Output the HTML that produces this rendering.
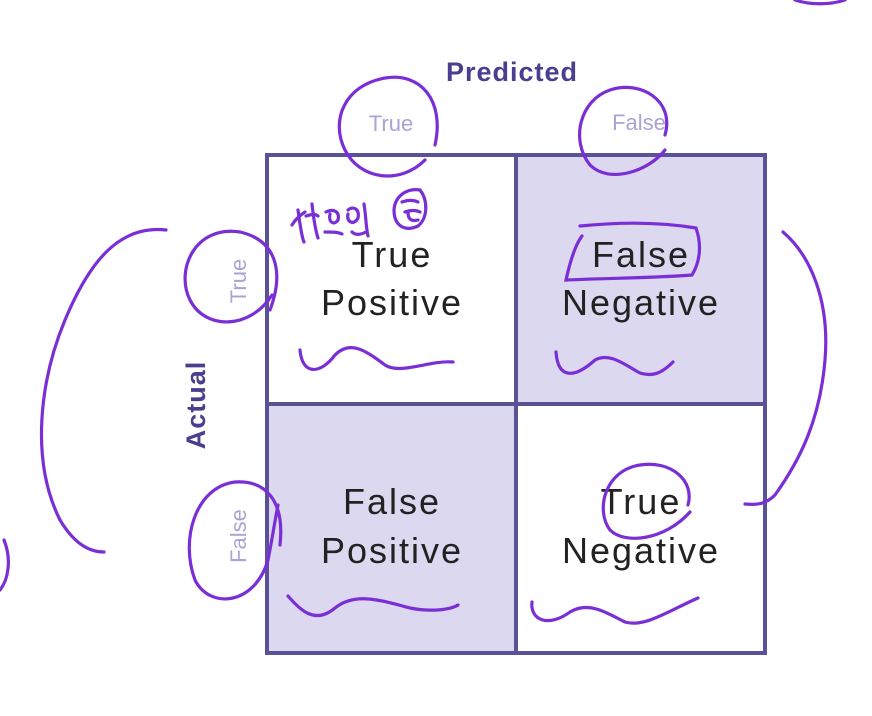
<!DOCTYPE html>
<html><head><meta charset="utf-8"><style>
html,body{margin:0;padding:0;background:#fff;}
body{width:872px;height:716px;overflow:hidden;position:relative;font-family:"Liberation Sans","Noto Sans CJK KR",sans-serif;}
</style></head><body>
<svg width="872" height="716" viewBox="0 0 872 716" xmlns="http://www.w3.org/2000/svg" style="position:absolute;left:0;top:0">
<rect x="0" y="0" width="872" height="716" fill="#ffffff"/>
<rect x="516" y="155" width="249" height="249" fill="#dcd8f0"/>
<rect x="267" y="404" width="249" height="249" fill="#dcd8f0"/>
<rect x="267" y="155" width="498" height="498" fill="none" stroke="#5a5296" stroke-width="4"/>
<line x1="516" y1="155" x2="516" y2="653" stroke="#5a5296" stroke-width="4"/>
<line x1="267" y1="404" x2="765" y2="404" stroke="#5a5296" stroke-width="4"/>
<g font-family="Liberation Sans, sans-serif" font-size="36" fill="#222" text-anchor="middle" letter-spacing="2">
<text x="392" y="267">True</text><text x="392" y="315">Positive</text>
<text x="641" y="267">False</text><text x="641" y="315">Negative</text>
<text x="392" y="514">False</text><text x="392" y="563">Positive</text>
<text x="641" y="514">True</text><text x="641" y="563">Negative</text>
</g>
<text x="512" y="81" font-size="27" font-weight="bold" fill="#4a3f8f" text-anchor="middle" letter-spacing="1">Predicted</text>
<text x="391" y="131" font-size="22" fill="#a9a3d6" text-anchor="middle">True</text>
<text x="639" y="130" font-size="22" fill="#a9a3d6" text-anchor="middle">False</text>
<text transform="translate(205,405) rotate(-90)" font-size="27" font-weight="bold" fill="#4a3f8f" text-anchor="middle" letter-spacing="1">Actual</text>
<text transform="translate(246,281) rotate(-90)" font-size="22" fill="#a9a3d6" text-anchor="middle">True</text>
<text transform="translate(246,536) rotate(-90)" font-size="22" fill="#a9a3d6" text-anchor="middle">False</text>
<g fill="none" stroke="#7a2fd6" stroke-width="3.2" stroke-linecap="round">
<path d="M435 145 C445 100 420 72 385 78 C345 85 330 120 345 150 C360 180 400 185 425 160"/>
<path d="M665 135 C675 100 640 80 610 90 C580 100 570 140 590 165 C610 185 650 170 665 150"/>
<path d="M270 310 C285 270 275 240 240 232 C195 225 175 270 190 300 C205 330 250 330 272 295"/>
<path d="M280 545 C285 500 265 480 235 482 C195 487 180 540 195 580 C210 610 255 605 268 560 C272 540 275 520 278 505"/>
<path d="M166 230 C120 225 90 260 65 320 C40 380 30 460 60 520 C75 545 90 552 104 552"/>
<path d="M783 232 C810 255 830 300 825 360 C820 420 800 460 775 495 C765 505 755 505 745 504"/>
<path d="M4 540 C12 560 8 580 0 590"/>
<path d="M795 0 C810 5 830 5 845 0"/>
<path d="M300 350 C302 375 320 375 335 355 C350 340 365 350 385 365 C400 375 430 360 453 362"/>
<path d="M556 352 C558 380 575 378 595 360 C610 352 625 365 640 373 C655 378 665 370 673 362"/>
<path d="M288 596 C300 610 315 625 335 608 C355 592 380 600 410 608 C430 612 450 610 458 605"/>
<path d="M532 602 C530 620 548 628 570 612 C590 600 610 615 625 622 C645 628 670 610 698 598"/>
<path d="M580 226 C620 222 660 222 696 228 C702 245 700 262 692 275 C655 278 610 278 566 280 C570 262 575 245 582 236"/>
<path d="M688 505 C695 480 670 460 640 465 C605 470 595 510 610 530 C625 545 665 540 690 512"/>
<path d="M292 225 C296 218 302 214 305 212 M298 210 C300 225 302 238 304 242 M306 216 C312 214 316 214 318 216 M312 204 C314 222 316 232 318 238 M326 212 C334 208 340 212 338 220 C334 226 328 222 330 214 M325 232 C332 232 338 232 342 234 M348 210 C352 206 360 208 358 218 C354 226 346 222 348 214 M364 204 C366 216 366 228 368 236 M352 232 C356 236 362 234 366 232"/>
<path d="M420 190 C428 200 428 218 418 226 C405 232 394 226 394 210 C395 195 408 188 420 190"/>
<path d="M402 202 C408 200 414 200 418 202 M405 212 C410 210 416 210 420 212 M408 212 C408 218 410 222 418 220"/>
</g>
</svg>
</body></html>
